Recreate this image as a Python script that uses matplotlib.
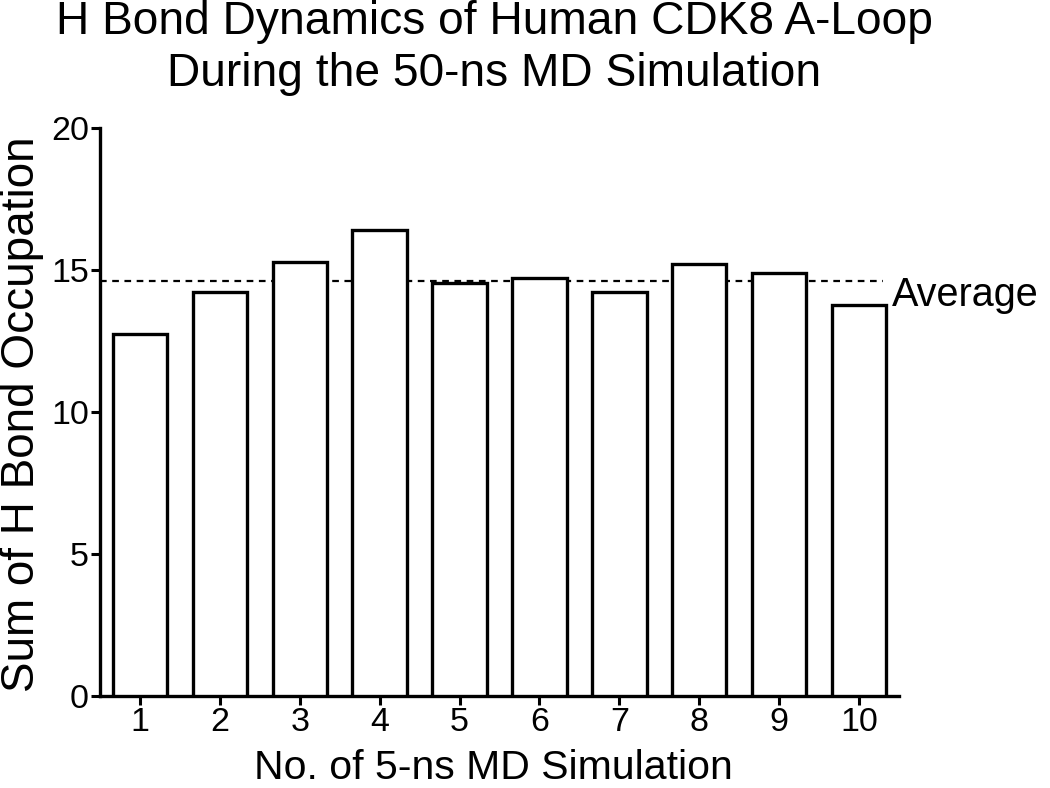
import matplotlib
matplotlib.use("Agg")
import matplotlib.pyplot as plt
import numpy as np

runs = [1, 2, 3, 4, 5, 6, 7, 8, 9, 10]
occupation = [12.74, 14.23, 15.30, 16.40, 14.56, 14.73, 14.24, 15.20, 14.89, 13.77]
average = 14.61
title_lines = ["H Bond Dynamics of Human CDK8 A-Loop", "During the 50-ns MD Simulation"]
xlabel = "No. of 5-ns MD Simulation"
ylabel = "Sum of H Bond Occupation"

FONT = ['Liberation Sans', 'DejaVu Sans']
plt.rcParams['font.family'] = FONT

W, H = 1050, 788
fig = plt.figure(figsize=(W/100, H/100), dpi=100)
ax = fig.add_axes([100/W, 1-695.5/H, (899-100)/W, (695.5-128.3)/H])

ax.bar(runs, occupation, width=0.68, facecolor='white', edgecolor='black', linewidth=2.4, zorder=3)
ax.plot([0.5, 10.3], [average, average], linestyle=(0, (3, 2.5)), color='black', linewidth=1.6, zorder=2, clip_on=False)
ax.text(892/W, 1-306/H, "Average", fontsize=28.5, va='baseline', ha='left', transform=fig.transFigure)

ax.set_xlim(0.5, 10.5)
ax.set_ylim(0, 20)
ax.set_xticks(runs)
ax.set_yticks([0, 5, 10, 15, 20])
for s in ['top', 'right']:
    ax.spines[s].set_visible(False)
for s in ['left', 'bottom']:
    ax.spines[s].set_linewidth(2.4)
ax.tick_params(axis='both', direction='out', length=6.5, width=2.2, labelsize=24.5)
ax.tick_params(axis='x', pad=1.5)
ax.tick_params(axis='y', pad=1.5)
ax.set_xlabel(xlabel, fontsize=29.5, va='baseline')
ax.xaxis.set_label_coords(493.5/W, 1-779/H, transform=fig.transFigure)
ax.set_ylabel(ylabel, fontsize=33, va='center')
ax.yaxis.set_label_coords(22/W, 1-414/H, transform=fig.transFigure)

fig.text(494/W, 1-34/H, title_lines[0], fontsize=33.2, ha='center', va='baseline')
fig.text(494/W, 1-86/H, title_lines[1], fontsize=33.2, ha='center', va='baseline')

fig.savefig("out.png", dpi=100)
